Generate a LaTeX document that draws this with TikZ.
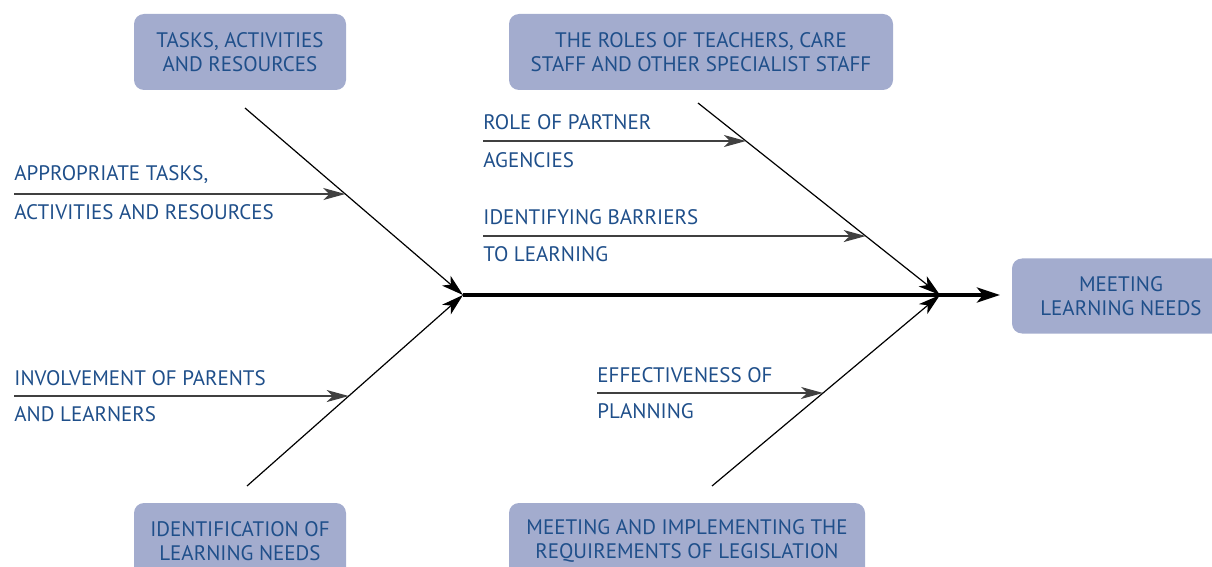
\documentclass[tikz,border=0pt]{standalone}
\usepackage{fontspec}
\setmainfont{PT Sans}
\usetikzlibrary{arrows.meta,calc}
\definecolor{boxfill}{HTML}{A3ACCE}
\definecolor{txtblue}{HTML}{1F4F8A}
\tikzset{>=Stealth}
\tikzset{
  cause/.style={fill=boxfill,rounded corners=5pt,text=txtblue,align=center,
    font=\fontsize{10.5}{12}\selectfont,inner sep=0pt},
  lbl/.style={anchor=west,text=txtblue,font=\fontsize{10.5}{12}\selectfont,inner sep=0pt},
  bone/.style={line width=0.6pt,-{Stealth[length=11pt,width=6.5pt,inset=3pt]}},
  sub/.style={line width=0.7pt,draw=black!75,-{Stealth[length=11pt,width=6pt,inset=3pt]}},
  spine/.style={line width=2pt,-{Stealth[length=11.5pt,width=7.5pt,inset=3pt]}}
}

\begin{document}
\begin{tikzpicture}[x=0.5pt,y=-0.5pt]
\clip (0,0) rectangle (1212,567);
\useasboundingbox (0,0) rectangle (1212,567);

% Cause boxes and effect
\node[cause,minimum width=106pt,minimum height=38pt] (T) at (240,52)
  {TASKS, ACTIVITIES\\AND RESOURCES};
\node[cause,minimum width=192pt,minimum height=38pt] (R) at (701,52)
  {THE ROLES OF TEACHERS, CARE\\STAFF AND OTHER SPECIALIST STAFF};
\node[cause,minimum width=106pt,minimum height=38pt] (I) at (240,541)
  {IDENTIFICATION OF\\LEARNING NEEDS};
\node[cause,minimum width=178pt,minimum height=38pt] (L) at (687,541)
  {MEETING AND IMPLEMENTING THE\\REQUIREMENTS OF LEGISLATION};
\node[cause,minimum width=109pt,minimum height=37.5pt] (M) at (1121,296)
  {MEETING\\LEARNING NEEDS};

% Spine
\coordinate (H) at (463,295);
\coordinate (J) at (940,295);
\coordinate (E) at (1000,295);
\draw[spine] (H) -- (E);

% Bones
\coordinate (A) at (245,108);
\coordinate (B) at (247,486);
\coordinate (C) at (698,103);
\coordinate (D) at (712,486);
\draw[bone] (A) -- (H);
\draw[bone] (B) -- (H);
\draw[bone] (C) -- (J);
\draw[bone] (D) -- (J);

% Points where the small arrows meet the bones
\coordinate (A1) at ($(A)!0.46!(H)$);
\coordinate (B1) at ($(B)!0.471!(H)$);
\coordinate (C1) at ($(C)!0.198!(J)$);
\coordinate (C2) at ($(C)!0.693!(J)$);
\coordinate (D1) at ($(D)!0.487!(J)$);

% Small arrows
\coordinate (P1) at (14,194);
\coordinate (P2) at (14,397);
\coordinate (P3) at (483,141);
\coordinate (P4) at (483,236);
\coordinate (P5) at (597,394);
\draw[sub] (P1 |- A1) -- (A1);
\draw[sub] (P2 |- B1) -- (B1);
\draw[sub] (P3 |- C1) -- (C1);
\draw[sub] (P4 |- C2) -- (C2);
\draw[sub] (P5 |- D1) -- (D1);

% Labels above and below the small arrows
\node[lbl] (a1) at (14,175) {APPROPRIATE TASKS,};
\node[lbl] (a2) at (14,212) {ACTIVITIES AND RESOURCES};
\node[lbl] (b1) at (14,378) {INVOLVEMENT OF PARENTS};
\node[lbl] (b2) at (14,414) {AND LEARNERS};
\node[lbl] (c1) at (483,122) {ROLE OF PARTNER};
\node[lbl] (c2) at (483,160) {AGENCIES};
\node[lbl] (c3) at (483,217) {IDENTIFYING BARRIERS};
\node[lbl] (c4) at (483,254) {TO LEARNING};
\node[lbl] (d1) at (597,375) {EFFECTIVENESS OF};
\node[lbl] (d2) at (597,411) {PLANNING};
\end{tikzpicture}
\end{document}
